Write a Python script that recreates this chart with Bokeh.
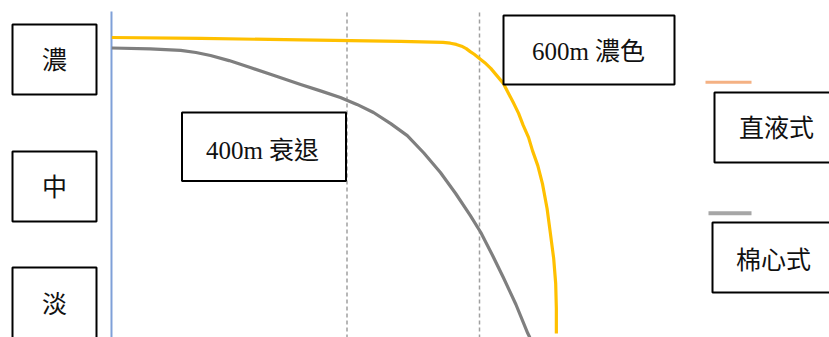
from bokeh.plotting import figure
from bokeh.models import Range1d, ColumnDataSource
from bokeh.core.properties import value
from bokeh.embed import file_html
from bokeh.resources import INLINE

# ---- data (distance in m, colour intensity 0-100) ----
direct_dist = [45, 179, 330, 481, 545, 556, 565, 573, 580, 586, 592, 599, 608, 617, 636, 651, 659, 666,
               674, 680, 688, 695, 702, 707, 712, 715, 716, 716]
direct_int = [100, 99.7, 99.2, 98.7, 98.4, 98.1, 97.7, 97.1, 96.3, 95.3, 94.4, 93.2, 91.6, 89.7, 84.7, 78.3,
              74.7, 70.7, 66.7, 62.3, 57.3, 51.3, 43, 34.7, 26.3, 18, 9.7, 1.3]
wick_dist = [45, 103, 149, 172, 194, 222, 254, 290, 330, 360, 390, 415, 440, 466, 491, 516, 541, 564, 586,
             602, 619, 636, 655, 673, 676]
wick_int = [96.5, 96.2, 95.7, 95, 94, 92.3, 90, 87.3, 84.3, 82.2, 80, 77.7, 75, 71.3, 67.3, 61.5, 55, 48,
            40.7, 35, 27.7, 20, 11, 1.3, 0]
marker_dist = [400, 600]
marker_labels = ["400m 衰退", "600m 濃色"]
level_labels = ["濃", "中", "淡"]
series_names = ["直液式", "棉心式"]
axis_dist = 44.5

# ---- layout helpers (pixel positions of the reference -> data) ----
def X(px):
    return (px - 81.5) / 0.6625

def Y(py):
    return (337 - py) / 3.0

W, H = 829, 337
p = figure(width=W, height=H, output_backend="svg", toolbar_location=None,
           x_range=Range1d(X(0), X(829)), y_range=Range1d(Y(337), Y(0)),
           x_axis_location=None, y_axis_location=None,
           min_border=0, min_border_left=0, min_border_right=0,
           min_border_top=0, min_border_bottom=0)
p.grid.visible = False
p.outline_line_color = None
p.background_fill_color = "white"
p.border_fill_color = "white"

# axis line
p.segment(x0=[axis_dist], y0=[Y(11)], x1=[axis_dist], y1=[Y(345)],
          line_color="#7FA0D8", line_width=2)

# dashed markers
p.segment(x0=marker_dist, y0=[Y(12)] * 2, x1=marker_dist, y1=[Y(345)] * 2,
          line_color="#A0A0A0", line_width=1.5, line_dash="4 3")

# curves
p.line(wick_dist, wick_int, line_color="#7F7F7F", line_width=3.2, line_join="round")
p.line(direct_dist, direct_int, line_color="#FFC000", line_width=3.2, line_join="round")

# legend lines
p.segment(x0=[X(705), X(708)], y0=[Y(81.7), Y(212.7)], x1=[X(751), X(751)], y1=[Y(81.7), Y(212.7)],
          line_color=["#F4B183", "#A6A6A6"], line_width=[3, 4])

# boxes: (left, top, right, bottom) in reference pixels
box_px = [(12, 24, 96, 94), (12, 151, 96, 221), (12, 267, 96, 345),
          (181.5, 112, 345.5, 180.5), (503, 15, 674, 84),
          (714, 92, 845, 162), (712, 222, 845, 292)]
box_text = level_labels + marker_labels + series_names
text_px = [(54, 60), (54, 187), (54, 304), (262, 150), (588, 51), (776, 128), (773, 260)]

src = ColumnDataSource(dict(
    left=[X(b[0]) for b in box_px], right=[X(b[2]) for b in box_px],
    top=[Y(b[1]) for b in box_px], bottom=[Y(b[3]) for b in box_px]))
p.quad(left="left", right="right", top="top", bottom="bottom", source=src,
       fill_color="white", line_color="#000000", line_width=2)

tsrc = ColumnDataSource(dict(x=[X(t[0]) for t in text_px], y=[Y(t[1]) for t in text_px], text=box_text))
p.text(x="x", y="y", text="text", source=tsrc, text_align="center", text_baseline="middle",
       text_font=value("Liberation Serif, Noto Sans CJK TC"), text_font_size="25px",
       text_color="#111111")

open("out.html", "w").write(file_html(p, INLINE))
